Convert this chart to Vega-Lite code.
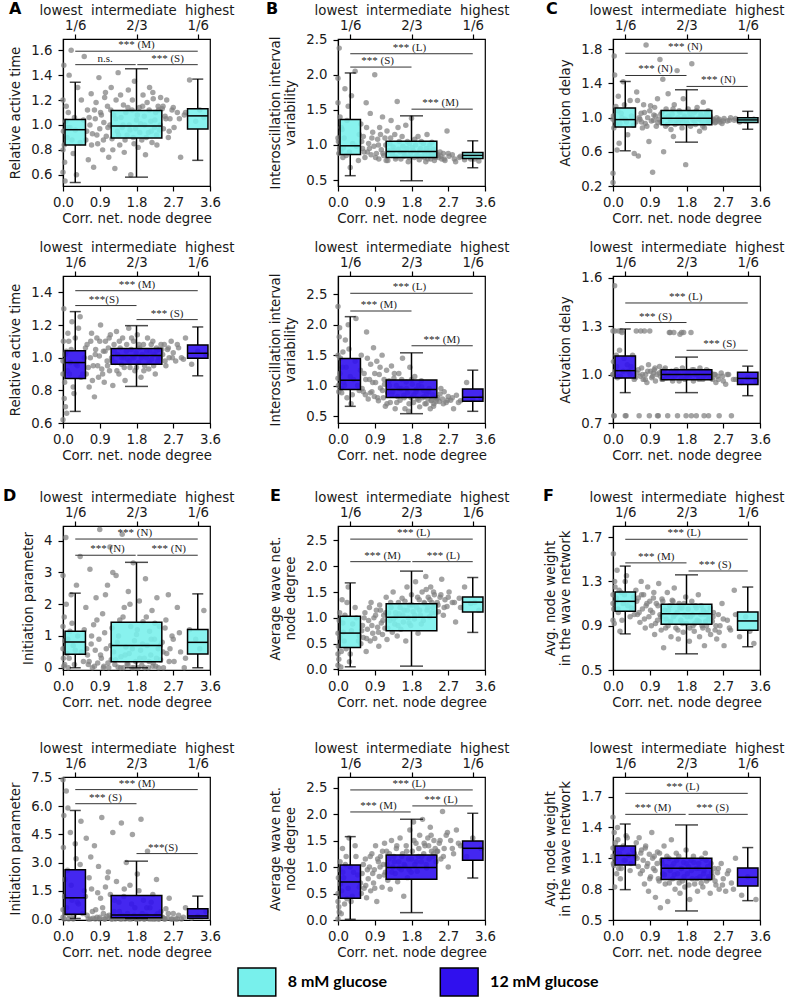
{
"$schema":"https://vega.github.io/schema/vega-lite/v6.json",
"background":"white",
"padding":{"left":2,"top":0,"right":5,"bottom":4},
"config":{
 "font":"DejaVu Sans",
 "view":{"stroke":"black","strokeWidth":1.2},
 "axis":{"labelFont":"DejaVu Sans","labelFontSize":13.3,"labelColor":"#1a1a1a","titleFont":"DejaVu Sans","titleFontSize":13.3,"titleFontWeight":"normal","titleColor":"#1a1a1a","tickColor":"black","tickSize":5,"tickWidth":1.2,"domainColor":"black","domainWidth":1.2,"grid":false,"labelPadding":4,"titlePadding":3,"labelFlush":false,"labelOverlap":false},
 "axisY":{"labelPadding":6,"titlePadding":8,"labelOverlap":false},
 "axisTop":{"labelPadding":2,"titlePadding":1}
},
"datasets":{
"cells":[
{"g":8,"x":0,"act":0.62,"ivar":1.95,"delay":0.35,"init":2.9,"wdeg":0.08,"wgt":1.18},
{"g":8,"x":0.01,"act":0.95,"ivar":1.05,"delay":1.02,"init":0.3,"wdeg":0.45,"wgt":1.55},
{"g":8,"x":0.02,"act":1.48,"ivar":0.88,"delay":0.88,"init":0.05,"wdeg":0.2,"wgt":1.05},
{"g":8,"x":0.03,"act":0.84,"ivar":2.38,"delay":1.72,"init":1.6,"wdeg":0.95,"wgt":0.92},
{"g":8,"x":0.05,"act":0.55,"ivar":1.4,"delay":0.96,"init":0.85,"wdeg":0.62,"wgt":1.25},
{"g":8,"x":0.07,"act":1.03,"ivar":0.92,"delay":1.13,"init":4.1,"wdeg":0.05,"wgt":1.12},
{"g":8,"x":0.1,"act":0.9,"ivar":1.22,"delay":0.62,"init":0.45,"wdeg":1.35,"wgt":1.4},
{"g":8,"x":0.13,"act":1.1,"ivar":0.96,"delay":1.25,"init":0,"wdeg":0.72,"wgt":1.02},
{"g":8,"x":0.17,"act":0.98,"ivar":1.8,"delay":0.93,"init":1.15,"wdeg":1.05,"wgt":0.85},
{"g":8,"x":0.2,"act":1.6,"ivar":0.85,"delay":1.05,"init":2.3,"wdeg":0.4,"wgt":1.2},
{"g":8,"x":0.25,"act":0.77,"ivar":1.55,"delay":1.42,"init":0.7,"wdeg":1.6,"wgt":1.1},
{"g":8,"x":0.3,"act":0.96,"ivar":0.68,"delay":0.98,"init":0.55,"wdeg":0.3,"wgt":1.3},
{"g":8,"x":0.36,"act":1.3,"ivar":1.02,"delay":0.8,"init":1,"wdeg":0.88,"wgt":1.08},
{"g":8,"x":0.42,"act":0.86,"ivar":2.05,"delay":1.2,"init":3.5,"wdeg":1.2,"wgt":0.98},
{"g":8,"x":0.5,"act":1.04,"ivar":0.78,"delay":0.91,"init":0.2,"wdeg":0.55,"wgt":1.16},
{"g":8,"x":0.56,"act":0.88,"ivar":1.3,"delay":0.95,"init":1.9,"wdeg":0.5,"wgt":1.22},
{"g":8,"x":0.6,"act":1.12,"ivar":0.95,"delay":1.2,"init":0.4,"wdeg":0.85,"wgt":1.0},
{"g":8,"x":0.62,"act":0.72,"ivar":1.12,"delay":0.55,"init":0.1,"wdeg":0.62,"wgt":1.15},
{"g":8,"x":0.66,"act":1.0,"ivar":0.82,"delay":0.98,"init":3.1,"wdeg":1.1,"wgt":0.93},
{"g":8,"x":0.69,"act":1.25,"ivar":1.6,"delay":1.05,"init":0.75,"wdeg":0.35,"wgt":1.3},
{"g":8,"x":0.72,"act":0.93,"ivar":0.9,"delay":0.88,"init":0,"wdeg":0.78,"wgt":1.05},
{"g":8,"x":0.75,"act":0.66,"ivar":1.02,"delay":1.15,"init":1.35,"wdeg":0.95,"wgt":1.18},
{"g":8,"x":0.79,"act":1.05,"ivar":1.45,"delay":0.93,"init":0.55,"wdeg":0.55,"wgt":0.88},
{"g":8,"x":0.81,"act":1.18,"ivar":0.86,"delay":1.85,"init":2.2,"wdeg":1.3,"wgt":1.08},
{"g":8,"x":0.85,"act":0.85,"ivar":1.18,"delay":1.0,"init":0.15,"wdeg":0.7,"wgt":1.25},
{"g":8,"x":0.88,"act":1.38,"ivar":0.98,"delay":0.72,"init":0.9,"wdeg":1.0,"wgt":0.98},
{"g":8,"x":0.9,"act":0.97,"ivar":2.0,"delay":1.08,"init":4.35,"wdeg":0.6,"wgt":1.12},
{"g":8,"x":0.94,"act":1.08,"ivar":0.88,"delay":0.96,"init":0.3,"wdeg":1.15,"wgt":0.9},
{"g":8,"x":0.97,"act":0.8,"ivar":1.08,"delay":0.36,"init":1.7,"wdeg":0.82,"wgt":1.02},
{"g":8,"x":1.0,"act":1.02,"ivar":0.8,"delay":1.03,"init":0.05,"wdeg":0.45,"wgt":1.2},
{"g":8,"x":1.02,"act":1.22,"ivar":1.25,"delay":1.12,"init":1.1,"wdeg":1.25,"wgt":0.82},
{"g":8,"x":1.06,"act":0.91,"ivar":0.93,"delay":0.9,"init":0.6,"wdeg":0.9,"wgt":1.1},
{"g":8,"x":1.09,"act":1.15,"ivar":1.4,"delay":1.22,"init":2.6,"wdeg":0.68,"wgt":0.95},
{"g":8,"x":1.12,"act":0.74,"ivar":0.85,"delay":0.98,"init":0,"wdeg":1.05,"wgt":1.28},
{"g":8,"x":1.15,"act":1.0,"ivar":1.1,"delay":1.68,"init":3.8,"wdeg":0.8,"wgt":1.0},
{"g":8,"x":1.18,"act":1.3,"ivar":0.78,"delay":0.95,"init":0.25,"wdeg":1.4,"wgt":0.86},
{"g":8,"x":1.2,"act":0.89,"ivar":1.2,"delay":1.06,"init":1.25,"wdeg":0.58,"wgt":1.14},
{"g":8,"x":1.24,"act":1.08,"ivar":0.92,"delay":0.6,"init":0.5,"wdeg":1.1,"wgt":0.7},
{"g":8,"x":1.27,"act":0.65,"ivar":1.02,"delay":1.0,"init":0.1,"wdeg":0.95,"wgt":1.04},
{"g":8,"x":1.3,"act":1.2,"ivar":1.35,"delay":1.1,"init":2.9,"wdeg":1.2,"wgt":0.96},
{"g":8,"x":1.33,"act":0.95,"ivar":0.87,"delay":0.92,"init":0.8,"wdeg":0.72,"wgt":1.2},
{"g":8,"x":1.35,"act":1.42,"ivar":0.97,"delay":1.28,"init":0.02,"wdeg":1.5,"wgt":0.9},
{"g":8,"x":1.39,"act":0.84,"ivar":1.15,"delay":0.99,"init":1.5,"wdeg":0.88,"wgt":1.08},
{"g":8,"x":1.42,"act":1.06,"ivar":0.83,"delay":0.86,"init":0.35,"wdeg":1.02,"wgt":0.8},
{"g":8,"x":1.45,"act":0.98,"ivar":1.62,"delay":1.04,"init":4.2,"wdeg":0.65,"wgt":1.13},
{"g":8,"x":1.48,"act":1.16,"ivar":0.94,"delay":0.78,"init":0,"wdeg":1.3,"wgt":0.98},
{"g":8,"x":1.5,"act":0.78,"ivar":1.05,"delay":1.15,"init":1.9,"wdeg":1.08,"wgt":1.24},
{"g":8,"x":1.54,"act":1.1,"ivar":0.8,"delay":0.97,"init":0.65,"wdeg":0.78,"wgt":0.88},
{"g":8,"x":1.57,"act":0.92,"ivar":1.12,"delay":1.55,"init":0.12,"wdeg":1.38,"wgt":1.02},
{"g":8,"x":1.6,"act":1.28,"ivar":0.9,"delay":0.94,"init":2.4,"wdeg":0.92,"wgt":0.78},
{"g":8,"x":1.62,"act":1.0,"ivar":0.84,"delay":1.08,"init":0.45,"wdeg":1.15,"wgt":1.1},
{"g":8,"x":1.66,"act":0.6,"ivar":1.28,"delay":0.98,"init":1.3,"wdeg":0.55,"wgt":0.95},
{"g":8,"x":1.69,"act":1.12,"ivar":0.95,"delay":0.88,"init":0,"wdeg":1.6,"wgt":1.06},
{"g":8,"x":1.72,"act":0.9,"ivar":0.76,"delay":1.22,"init":3.3,"wdeg":1.0,"wgt":0.84},
{"g":8,"x":1.75,"act":1.35,"ivar":1.02,"delay":1.02,"init":0.85,"wdeg":1.25,"wgt":1.0},
{"g":8,"x":1.78,"act":0.97,"ivar":0.88,"delay":0.45,"init":0.2,"wdeg":0.85,"wgt":1.16},
{"g":8,"x":1.8,"act":1.04,"ivar":1.38,"delay":0.96,"init":1.05,"wdeg":1.45,"wgt":0.92},
{"g":8,"x":1.84,"act":0.82,"ivar":0.92,"delay":1.1,"init":0,"wdeg":1.12,"wgt":1.05},
{"g":8,"x":1.87,"act":1.14,"ivar":0.82,"delay":1.0,"init":2.1,"wdeg":0.98,"wgt":0.76},
{"g":8,"x":1.9,"act":1.01,"ivar":1.0,"delay":0.9,"init":0.55,"wdeg":1.7,"wgt":0.98},
{"g":8,"x":1.93,"act":0.88,"ivar":0.86,"delay":1.63,"init":0.08,"wdeg":1.2,"wgt":1.12},
{"g":8,"x":1.96,"act":1.24,"ivar":1.12,"delay":0.97,"init":1.45,"wdeg":0.7,"wgt":0.9},
{"g":8,"x":1.99,"act":1.07,"ivar":0.79,"delay":1.06,"init":0.3,"wdeg":1.35,"wgt":0.85},
{"g":8,"x":2.02,"act":0.76,"ivar":0.95,"delay":0.92,"init":2.8,"wdeg":1.05,"wgt":1.08},
{"g":8,"x":2.06,"act":1.18,"ivar":0.84,"delay":1.12,"init":0.7,"wdeg":1.5,"wgt":0.95},
{"g":8,"x":2.09,"act":0.94,"ivar":1.02,"delay":0.99,"init":0,"wdeg":0.95,"wgt":1.18},
{"g":8,"x":2.12,"act":1.3,"ivar":0.9,"delay":0.84,"init":1.15,"wdeg":1.28,"wgt":0.8},
{"g":8,"x":2.15,"act":1.03,"ivar":0.76,"delay":1.04,"init":0.4,"wdeg":1.8,"wgt":1.0},
{"g":8,"x":2.18,"act":0.86,"ivar":1.15,"delay":0.95,"init":1.8,"wdeg":1.15,"wgt":0.9},
{"g":8,"x":2.21,"act":1.21,"ivar":0.86,"delay":1.18,"init":0.15,"wdeg":1.4,"wgt":1.04},
{"g":8,"x":2.24,"act":0.98,"ivar":0.92,"delay":0.88,"init":0.9,"wdeg":1.02,"wgt":0.72},
{"g":8,"x":2.27,"act":1.1,"ivar":0.8,"delay":1.02,"init":0.05,"wdeg":1.6,"wgt":0.94},
{"g":8,"x":2.3,"act":0.84,"ivar":1.04,"delay":0.95,"init":2.2,"wdeg":1.3,"wgt":1.02},
{"g":8,"x":2.33,"act":1.15,"ivar":0.84,"delay":1.08,"init":0.6,"wdeg":1.2,"wgt":0.86},
{"g":8,"x":2.36,"act":0.96,"ivar":0.78,"delay":0.94,"init":1.3,"wdeg":1.45,"wgt":0.98},
{"g":8,"x":2.39,"act":1.22,"ivar":0.9,"delay":1.0,"init":0.25,"wdeg":1.1,"wgt":0.82},
{"g":8,"x":2.43,"act":1.13,"ivar":0.85,"delay":0.96,"init":0.8,"wdeg":1.3,"wgt":0.94},
{"g":8,"x":2.46,"act":0.97,"ivar":0.82,"delay":0.98,"init":0,"wdeg":1.12,"wgt":1.02},
{"g":8,"x":2.5,"act":1.07,"ivar":0.9,"delay":0.94,"init":1.25,"wdeg":1.4,"wgt":0.86},
{"g":8,"x":2.54,"act":1.2,"ivar":0.8,"delay":1.0,"init":0.45,"wdeg":1.75,"wgt":0.78},
{"g":8,"x":2.58,"act":0.9,"ivar":0.88,"delay":0.97,"init":2.3,"wdeg":1.05,"wgt":1.0},
{"g":8,"x":2.62,"act":1.05,"ivar":0.78,"delay":0.95,"init":0.6,"wdeg":1.35,"wgt":0.9},
{"g":8,"x":2.67,"act":1.12,"ivar":1.2,"delay":0.93,"init":1.0,"wdeg":1.22,"wgt":1.1},
{"g":8,"x":2.72,"act":0.98,"ivar":0.84,"delay":0.99,"init":0.2,"wdeg":1.5,"wgt":0.72},
{"g":8,"x":2.8,"act":1.1,"ivar":0.86,"delay":0.96,"init":1.9,"wdeg":1.3,"wgt":0.95},
{"g":8,"x":2.88,"act":0.74,"ivar":0.76,"delay":1.0,"init":0.5,"wdeg":0.92,"wgt":0.86},
{"g":8,"x":2.97,"act":1.08,"ivar":0.82,"delay":0.97,"init":0,"wdeg":1.38,"wgt":1.22},
{"g":8,"x":3.1,"act":1.36,"ivar":0.79,"delay":0.95,"init":1.2,"wdeg":1.6,"wgt":0.8},
{"g":8,"x":3.25,"act":1.03,"ivar":0.8,"delay":0.96,"init":0.9,"wdeg":1.28,"wgt":0.98},
{"g":8,"x":3.45,"act":1.06,"ivar":0.77,"delay":0.98,"init":1.8,"wdeg":1.15,"wgt":0.74},
{"g":8,"x":0,"act":0.8,"ivar":1.1,"delay":0.98,"init":0.6,"wdeg":0.3,"wgt":1.1},
{"g":8,"x":0,"act":1.2,"ivar":1.6,"delay":0.24,"init":1.3,"wdeg":0.7,"wgt":0.95},
{"g":8,"x":0.04,"act":0.7,"ivar":0.95,"delay":1.5,"init":0.1,"wdeg":1.1,"wgt":1.3},
{"g":8,"x":0.08,"act":1.15,"ivar":1.25,"delay":0.92,"init":2.0,"wdeg":0.35,"wgt":1.15},
{"g":8,"x":0.12,"act":0.98,"ivar":0.82,"delay":1.08,"init":0.9,"wdeg":0.9,"wgt":1.05},
{"g":8,"x":0.15,"act":1.4,"ivar":1.1,"delay":0.7,"init":0.3,"wdeg":0.55,"wgt":1.22},
{"g":8,"x":0.22,"act":0.88,"ivar":1.35,"delay":1.0,"init":1.4,"wdeg":1.3,"wgt":0.95},
{"g":8,"x":0.28,"act":1.06,"ivar":0.9,"delay":1.15,"init":0.1,"wdeg":0.15,"wgt":1.18},
{"g":8,"x":0.33,"act":0.6,"ivar":1.7,"delay":0.95,"init":2.6,"wdeg":0.75,"wgt":1.35},
{"g":8,"x":0.45,"act":1.2,"ivar":0.98,"delay":1.02,"init":0.5,"wdeg":1.0,"wgt":1.06},
{"g":8,"x":0.52,"act":1.55,"ivar":1.15,"delay":0.58,"init":1.2,"wdeg":0.65,"wgt":1.0},
{"g":8,"x":0.58,"act":0.95,"ivar":1.05,"delay":1.3,"init":0.6,"wdeg":0.75,"wgt":1.12},
{"g":8,"x":0.64,"act":1.06,"ivar":0.9,"delay":1.0,"init":0.2,"wdeg":1.0,"wgt":1.02},
{"g":8,"x":0.7,"act":0.84,"ivar":1.25,"delay":0.95,"init":1.0,"wdeg":0.6,"wgt":1.18},
{"g":8,"x":0.77,"act":1.12,"ivar":0.95,"delay":1.06,"init":0.05,"wdeg":1.2,"wgt":0.96},
{"g":8,"x":0.83,"act":0.92,"ivar":1.1,"delay":0.9,"init":1.5,"wdeg":0.85,"wgt":1.1},
{"g":8,"x":0.92,"act":1.1,"ivar":0.82,"delay":1.14,"init":0.4,"wdeg":1.05,"wgt":1.04},
{"g":8,"x":0.99,"act":0.88,"ivar":1.0,"delay":0.97,"init":0,"wdeg":0.72,"wgt":1.15},
{"g":8,"x":1.04,"act":1.26,"ivar":1.15,"delay":1.02,"init":2.3,"wdeg":1.15,"wgt":0.92},
{"g":8,"x":1.1,"act":0.98,"ivar":0.88,"delay":0.94,"init":0.15,"wdeg":0.95,"wgt":1.08},
{"g":8,"x":1.17,"act":1.12,"ivar":1.0,"delay":1.04,"init":0.7,"wdeg":1.1,"wgt":0.98},
{"g":8,"x":1.22,"act":0.8,"ivar":0.78,"delay":1.45,"init":3.0,"wdeg":0.8,"wgt":1.12},
{"g":8,"x":1.29,"act":1.05,"ivar":1.1,"delay":0.9,"init":0.25,"wdeg":1.3,"wgt":0.88},
{"g":8,"x":1.36,"act":0.92,"ivar":0.92,"delay":1.02,"init":1.0,"wdeg":0.98,"wgt":1.04},
{"g":8,"x":1.41,"act":1.24,"ivar":0.8,"delay":0.96,"init":0,"wdeg":1.1,"wgt":0.94},
{"g":8,"x":1.47,"act":1.0,"ivar":1.25,"delay":1.1,"init":1.6,"wdeg":0.85,"wgt":1.12},
{"g":8,"x":1.52,"act":0.88,"ivar":0.9,"delay":0.92,"init":0.4,"wdeg":1.2,"wgt":1.0},
{"g":8,"x":1.59,"act":1.14,"ivar":0.98,"delay":1.0,"init":0.1,"wdeg":1.05,"wgt":0.86},
{"g":8,"x":1.64,"act":0.96,"ivar":0.86,"delay":1.06,"init":2.0,"wdeg":1.32,"wgt":1.06},
{"g":8,"x":1.7,"act":1.2,"ivar":1.05,"delay":0.95,"init":0.6,"wdeg":1.15,"wgt":0.92},
{"g":8,"x":1.74,"act":0.85,"ivar":0.82,"delay":1.0,"init":0,"wdeg":0.9,"wgt":1.1},
{"g":8,"x":1.82,"act":1.08,"ivar":0.96,"delay":0.93,"init":1.2,"wdeg":1.25,"wgt":0.98},
{"g":8,"x":1.88,"act":0.94,"ivar":1.08,"delay":1.05,"init":0.3,"wdeg":1.05,"wgt":0.88},
{"g":8,"x":1.95,"act":1.15,"ivar":0.84,"delay":1.0,"init":0.75,"wdeg":1.4,"wgt":1.0},
{"g":8,"x":2.0,"act":1.0,"ivar":0.92,"delay":0.96,"init":0,"wdeg":1.15,"wgt":0.92},
{"g":8,"x":2.04,"act":0.9,"ivar":1.05,"delay":1.08,"init":1.6,"wdeg":0.88,"wgt":1.06},
{"g":8,"x":2.11,"act":1.12,"ivar":0.82,"delay":0.98,"init":0.2,"wdeg":1.3,"wgt":0.94},
{"g":8,"x":2.16,"act":0.95,"ivar":0.95,"delay":1.02,"init":0.9,"wdeg":1.55,"wgt":1.08},
{"g":8,"x":2.2,"act":1.26,"ivar":0.8,"delay":0.9,"init":0.05,"wdeg":1.2,"wgt":0.88},
{"g":8,"x":2.25,"act":1.04,"ivar":1.0,"delay":1.0,"init":1.4,"wdeg":1.35,"wgt":1.0},
{"g":8,"x":2.29,"act":0.92,"ivar":0.86,"delay":1.06,"init":0.3,"wdeg":1.1,"wgt":0.9},
{"g":8,"x":2.34,"act":1.12,"ivar":0.94,"delay":0.96,"init":0,"wdeg":1.5,"wgt":0.96},
{"g":8,"x":2.38,"act":1.0,"ivar":0.82,"delay":1.02,"init":0.7,"wdeg":1.25,"wgt":1.06},
{"g":8,"x":2.45,"act":1.15,"ivar":0.86,"delay":0.97,"init":0.5,"wdeg":1.25,"wgt":0.98},
{"g":8,"x":2.52,"act":1.05,"ivar":0.84,"delay":0.95,"init":1.5,"wdeg":1.45,"wgt":0.9},
{"g":8,"x":2.6,"act":0.95,"ivar":0.8,"delay":0.98,"init":0.2,"wdeg":1.2,"wgt":0.84},
{"g":8,"x":2.7,"act":1.14,"ivar":0.88,"delay":0.96,"init":0.9,"wdeg":1.4,"wgt":0.96},
{"g":8,"x":2.85,"act":1.05,"ivar":0.8,"delay":0.97,"init":1.1,"wdeg":1.3,"wgt":0.88},
{"g":8,"x":3.0,"act":1.1,"ivar":0.84,"delay":0.99,"init":0.3,"wdeg":1.2,"wgt":1.0},
{"g":8,"x":3.35,"act":1.12,"ivar":0.8,"delay":0.97,"init":0.6,"wdeg":1.3,"wgt":0.85},
{"g":12,"x":0,"act":0.62,"ivar":2.3,"delay":1.27,"init":7.4,"wdeg":0.02,"wgt":1.5},
{"g":12,"x":0,"act":0.98,"ivar":1.12,"delay":1.0,"init":0.1,"wdeg":0.5,"wgt":1.12},
{"g":12,"x":0.02,"act":1.3,"ivar":0.9,"delay":0.745,"init":5.5,"wdeg":0.25,"wgt":1.03},
{"g":12,"x":0.04,"act":0.85,"ivar":1.95,"delay":1.55,"init":1.2,"wdeg":0.95,"wgt":0.82},
{"g":12,"x":0.06,"act":0.7,"ivar":1.45,"delay":1.02,"init":0.3,"wdeg":0.68,"wgt":1.25},
{"g":12,"x":0.08,"act":1.04,"ivar":0.95,"delay":1.12,"init":6.8,"wdeg":0.12,"wgt":1.18},
{"g":12,"x":0.11,"act":0.92,"ivar":1.3,"delay":0.98,"init":2.6,"wdeg":1.35,"wgt":1.4},
{"g":12,"x":0.14,"act":1.1,"ivar":1.05,"delay":1.27,"init":0,"wdeg":0.8,"wgt":1.0},
{"g":12,"x":0.18,"act":0.97,"ivar":1.75,"delay":0.99,"init":4.6,"wdeg":1.05,"wgt":0.9},
{"g":12,"x":0.22,"act":1.22,"ivar":0.8,"delay":1.26,"init":1.0,"wdeg":0.4,"wgt":1.2},
{"g":12,"x":0.27,"act":0.78,"ivar":1.6,"delay":1.1,"init":0.2,"wdeg":1.55,"wgt":1.08},
{"g":12,"x":0.32,"act":0.96,"ivar":0.7,"delay":0.745,"init":3.2,"wdeg":0.35,"wgt":1.32},
{"g":12,"x":0.38,"act":1.18,"ivar":1.1,"delay":1.02,"init":0.8,"wdeg":0.9,"wgt":1.13},
{"g":12,"x":0.44,"act":0.88,"ivar":2.1,"delay":1.05,"init":5.2,"wdeg":1.2,"wgt":1.05},
{"g":12,"x":0.52,"act":1.0,"ivar":0.92,"delay":0.97,"init":1.5,"wdeg":0.62,"wgt":1.15},
{"g":12,"x":0.57,"act":0.9,"ivar":1.5,"delay":1.27,"init":4.3,"wdeg":0.5,"wgt":1.25},
{"g":12,"x":0.59,"act":1.08,"ivar":0.95,"delay":1.01,"init":0.2,"wdeg":0.88,"wgt":1.1},
{"g":12,"x":0.64,"act":0.82,"ivar":1.2,"delay":0.745,"init":2.2,"wdeg":0.6,"wgt":1.3},
{"g":12,"x":0.67,"act":1.0,"ivar":0.85,"delay":0.99,"init":0,"wdeg":1.15,"wgt":0.95},
{"g":12,"x":0.7,"act":1.15,"ivar":1.88,"delay":1.04,"init":1.6,"wdeg":0.42,"wgt":1.18},
{"g":12,"x":0.74,"act":0.95,"ivar":0.78,"delay":0.97,"init":0.05,"wdeg":0.78,"wgt":1.08},
{"g":12,"x":0.77,"act":0.76,"ivar":1.1,"delay":1.27,"init":3.9,"wdeg":1.0,"wgt":0.85},
{"g":12,"x":0.8,"act":1.05,"ivar":1.35,"delay":1.0,"init":0.5,"wdeg":0.55,"wgt":1.22},
{"g":12,"x":0.83,"act":1.12,"ivar":0.9,"delay":0.95,"init":0.1,"wdeg":1.25,"wgt":1.02},
{"g":12,"x":0.87,"act":0.88,"ivar":1.62,"delay":1.06,"init":2.8,"wdeg":0.7,"wgt":0.78},
{"g":12,"x":0.89,"act":1.01,"ivar":0.82,"delay":0.745,"init":0,"wdeg":0.95,"wgt":1.14},
{"g":12,"x":0.92,"act":1.2,"ivar":1.05,"delay":1.02,"init":1.1,"wdeg":1.4,"wgt":0.92},
{"g":12,"x":0.95,"act":0.93,"ivar":1.4,"delay":0.98,"init":5.4,"wdeg":0.35,"wgt":1.35},
{"g":12,"x":0.99,"act":1.04,"ivar":0.75,"delay":1.01,"init":0.3,"wdeg":1.1,"wgt":1.0},
{"g":12,"x":1.01,"act":0.85,"ivar":1.18,"delay":1.03,"init":0,"wdeg":0.82,"wgt":1.12},
{"g":12,"x":1.04,"act":1.1,"ivar":0.96,"delay":0.96,"init":1.7,"wdeg":1.2,"wgt":0.72},
{"g":12,"x":1.08,"act":0.98,"ivar":1.5,"delay":1.0,"init":0.15,"wdeg":0.62,"wgt":1.05},
{"g":12,"x":1.11,"act":1.06,"ivar":0.8,"delay":0.745,"init":2.5,"wdeg":1.05,"wgt":0.9},
{"g":12,"x":1.14,"act":0.92,"ivar":1.02,"delay":1.05,"init":0.05,"wdeg":1.45,"wgt":1.15},
{"g":12,"x":1.16,"act":1.14,"ivar":0.66,"delay":0.99,"init":1.3,"wdeg":0.9,"wgt":0.62},
{"g":12,"x":1.19,"act":1.0,"ivar":1.25,"delay":1.02,"init":0,"wdeg":1.3,"wgt":1.08},
{"g":12,"x":1.22,"act":0.83,"ivar":0.88,"delay":0.97,"init":4.6,"wdeg":0.75,"wgt":0.95},
{"g":12,"x":1.25,"act":1.08,"ivar":1.08,"delay":1.01,"init":0.4,"wdeg":1.15,"wgt":1.22},
{"g":12,"x":1.28,"act":0.97,"ivar":0.72,"delay":1.04,"init":0,"wdeg":0.58,"wgt":0.85},
{"g":12,"x":1.31,"act":1.16,"ivar":1.32,"delay":0.98,"init":2.0,"wdeg":1.5,"wgt":1.02},
{"g":12,"x":1.34,"act":1.02,"ivar":0.9,"delay":0.745,"init":0.1,"wdeg":1.0,"wgt":0.68},
{"g":12,"x":1.37,"act":0.9,"ivar":1.12,"delay":1.0,"init":0.9,"wdeg":1.2,"wgt":1.1},
{"g":12,"x":1.4,"act":1.06,"ivar":0.62,"delay":1.26,"init":0,"wdeg":0.88,"wgt":0.98},
{"g":12,"x":1.43,"act":0.96,"ivar":1.0,"delay":1.02,"init":5.1,"wdeg":1.35,"wgt":1.28},
{"g":12,"x":1.46,"act":1.12,"ivar":0.82,"delay":0.96,"init":0.2,"wdeg":0.72,"wgt":0.9},
{"g":12,"x":1.49,"act":1.0,"ivar":1.2,"delay":1.26,"init":1.2,"wdeg":1.1,"wgt":1.05},
{"g":12,"x":1.52,"act":0.86,"ivar":0.76,"delay":0.99,"init":0,"wdeg":1.55,"wgt":0.8},
{"g":12,"x":1.55,"act":1.04,"ivar":0.95,"delay":1.03,"init":3.0,"wdeg":0.95,"wgt":1.15},
{"g":12,"x":1.58,"act":0.99,"ivar":1.45,"delay":0.745,"init":0.3,"wdeg":1.25,"wgt":0.95},
{"g":12,"x":1.61,"act":1.18,"ivar":0.84,"delay":1.01,"init":0.05,"wdeg":0.45,"wgt":1.12},
{"g":12,"x":1.64,"act":0.94,"ivar":0.62,"delay":1.25,"init":1.8,"wdeg":1.02,"wgt":0.76},
{"g":12,"x":1.67,"act":1.05,"ivar":1.06,"delay":0.98,"init":0,"wdeg":1.4,"wgt":1.0},
{"g":12,"x":1.7,"act":1.0,"ivar":0.88,"delay":1.04,"init":4.5,"wdeg":0.8,"wgt":0.88},
{"g":12,"x":1.73,"act":1.1,"ivar":0.58,"delay":1.26,"init":0.1,"wdeg":1.15,"wgt":1.06},
{"g":12,"x":1.76,"act":0.92,"ivar":1.3,"delay":0.97,"init":0.6,"wdeg":1.7,"wgt":0.82},
{"g":12,"x":1.79,"act":1.03,"ivar":0.8,"delay":0.745,"init":0,"wdeg":0.9,"wgt":1.18},
{"g":12,"x":1.82,"act":1.14,"ivar":1.02,"delay":1.0,"init":2.4,"wdeg":1.3,"wgt":0.95},
{"g":12,"x":1.85,"act":0.97,"ivar":0.72,"delay":1.02,"init":0.15,"wdeg":1.85,"wgt":1.02},
{"g":12,"x":1.88,"act":1.06,"ivar":1.15,"delay":0.99,"init":0,"wdeg":1.05,"wgt":0.7},
{"g":12,"x":1.91,"act":0.88,"ivar":0.9,"delay":1.26,"init":5.3,"wdeg":1.45,"wgt":1.08},
{"g":12,"x":1.94,"act":1.02,"ivar":0.78,"delay":1.03,"init":0.3,"wdeg":0.92,"wgt":0.9},
{"g":12,"x":1.97,"act":1.08,"ivar":1.0,"delay":0.96,"init":1.0,"wdeg":1.2,"wgt":1.12},
{"g":12,"x":2.0,"act":0.95,"ivar":0.65,"delay":1.0,"init":0,"wdeg":1.6,"wgt":0.85},
{"g":12,"x":2.04,"act":1.0,"ivar":1.08,"delay":0.745,"init":0.2,"wdeg":1.1,"wgt":1.0},
{"g":12,"x":2.07,"act":1.12,"ivar":0.8,"delay":1.02,"init":3.6,"wdeg":1.9,"wgt":0.78},
{"g":12,"x":2.1,"act":0.93,"ivar":0.92,"delay":0.98,"init":0.05,"wdeg":1.25,"wgt":1.05},
{"g":12,"x":2.13,"act":1.04,"ivar":0.7,"delay":1.04,"init":0.6,"wdeg":1.4,"wgt":0.92},
{"g":12,"x":2.17,"act":0.99,"ivar":0.86,"delay":1.01,"init":0,"wdeg":0.98,"wgt":1.1},
{"g":12,"x":2.2,"act":1.1,"ivar":0.78,"delay":0.97,"init":1.3,"wdeg":1.55,"wgt":0.82},
{"g":12,"x":2.23,"act":1.02,"ivar":0.95,"delay":0.745,"init":0.1,"wdeg":1.15,"wgt":0.98},
{"g":12,"x":2.26,"act":0.9,"ivar":0.62,"delay":1.0,"init":0,"wdeg":1.75,"wgt":1.15},
{"g":12,"x":2.29,"act":1.06,"ivar":0.76,"delay":1.03,"init":2.1,"wdeg":1.3,"wgt":0.88},
{"g":12,"x":2.32,"act":0.98,"ivar":0.85,"delay":0.99,"init":0.3,"wdeg":1.2,"wgt":1.02},
{"g":12,"x":2.35,"act":1.05,"ivar":0.7,"delay":1.02,"init":0,"wdeg":1.5,"wgt":0.9},
{"g":12,"x":2.38,"act":1.0,"ivar":0.8,"delay":0.98,"init":0.05,"wdeg":1.35,"wgt":0.76},
{"g":12,"x":2.4,"act":1.08,"ivar":0.74,"delay":1.01,"init":0.4,"wdeg":1.1,"wgt":1.05},
{"g":12,"x":2.44,"act":1.02,"ivar":0.8,"delay":0.97,"init":0.1,"wdeg":1.3,"wgt":0.92},
{"g":12,"x":2.48,"act":1.08,"ivar":0.74,"delay":1.0,"init":0,"wdeg":1.45,"wgt":1.0},
{"g":12,"x":2.52,"act":0.95,"ivar":0.95,"delay":0.95,"init":0.55,"wdeg":1.15,"wgt":0.84},
{"g":12,"x":2.56,"act":1.05,"ivar":0.78,"delay":0.99,"init":0.05,"wdeg":2.05,"wgt":0.96},
{"g":12,"x":2.6,"act":1.0,"ivar":0.9,"delay":0.745,"init":1.1,"wdeg":1.35,"wgt":0.8},
{"g":12,"x":2.65,"act":1.1,"ivar":0.72,"delay":1.01,"init":0,"wdeg":1.6,"wgt":1.05},
{"g":12,"x":2.7,"act":1.03,"ivar":0.82,"delay":0.96,"init":0.3,"wdeg":1.0,"wgt":0.9},
{"g":12,"x":2.76,"act":0.98,"ivar":0.76,"delay":0.94,"init":0,"wdeg":1.5,"wgt":0.78},
{"g":12,"x":2.83,"act":1.06,"ivar":0.62,"delay":1.0,"init":0.2,"wdeg":1.25,"wgt":0.98},
{"g":12,"x":2.9,"act":1.0,"ivar":0.84,"delay":0.745,"init":0,"wdeg":1.7,"wgt":0.86},
{"g":12,"x":3.0,"act":1.12,"ivar":0.75,"delay":0.97,"init":0.6,"wdeg":1.4,"wgt":1.1},
{"g":12,"x":3.15,"act":0.96,"ivar":1.05,"delay":0.95,"init":0.05,"wdeg":1.2,"wgt":0.74},
{"g":12,"x":3.3,"act":1.04,"ivar":0.78,"delay":0.98,"init":0.15,"wdeg":1.55,"wgt":0.92},
{"g":12,"x":3.5,"act":1.02,"ivar":0.8,"delay":0.96,"init":0.4,"wdeg":1.35,"wgt":0.7},
{"g":12,"x":0,"act":0.9,"ivar":1.5,"delay":1.0,"init":0.5,"wdeg":0.35,"wgt":1.2},
{"g":12,"x":0.01,"act":1.1,"ivar":1.0,"delay":1.08,"init":3.8,"wdeg":0.8,"wgt":1.05},
{"g":12,"x":0.03,"act":0.75,"ivar":1.8,"delay":0.745,"init":0,"wdeg":0.15,"wgt":1.35},
{"g":12,"x":0.05,"act":1.02,"ivar":1.2,"delay":1.27,"init":2.1,"wdeg":1.1,"wgt":1.1},
{"g":12,"x":0.09,"act":0.66,"ivar":0.88,"delay":1.05,"init":0.6,"wdeg":0.55,"wgt":0.95},
{"g":12,"x":0.12,"act":1.15,"ivar":1.55,"delay":0.99,"init":5.9,"wdeg":0.9,"wgt":1.28},
{"g":12,"x":0.16,"act":0.9,"ivar":1.0,"delay":1.15,"init":0.2,"wdeg":0.3,"wgt":1.15},
{"g":12,"x":0.2,"act":1.05,"ivar":1.3,"delay":1.27,"init":1.8,"wdeg":1.2,"wgt":1.0},
{"g":12,"x":0.25,"act":0.82,"ivar":2.0,"delay":1.02,"init":0,"wdeg":0.6,"wgt":1.22},
{"g":12,"x":0.3,"act":1.12,"ivar":1.15,"delay":0.745,"init":4.0,"wdeg":1.0,"wgt":1.08},
{"g":12,"x":0.35,"act":0.95,"ivar":0.85,"delay":1.06,"init":0.9,"wdeg":0.45,"wgt":1.3},
{"g":12,"x":0.42,"act":1.25,"ivar":1.4,"delay":1.0,"init":2.9,"wdeg":1.4,"wgt":0.98},
{"g":12,"x":0.48,"act":0.9,"ivar":1.0,"delay":1.12,"init":0.3,"wdeg":0.85,"wgt":1.18},
{"g":12,"x":0.55,"act":1.06,"ivar":1.25,"delay":0.98,"init":1.2,"wdeg":0.7,"wgt":1.12},
{"g":12,"x":0.62,"act":0.94,"ivar":0.9,"delay":1.03,"init":0,"wdeg":1.05,"wgt":1.02},
{"g":12,"x":0.68,"act":1.1,"ivar":1.1,"delay":1.27,"init":3.3,"wdeg":0.65,"wgt":1.15},
{"g":12,"x":0.72,"act":0.86,"ivar":1.45,"delay":1.0,"init":0.4,"wdeg":0.95,"wgt":0.98},
{"g":12,"x":0.79,"act":1.02,"ivar":0.88,"delay":0.97,"init":0,"wdeg":1.2,"wgt":1.2},
{"g":12,"x":0.85,"act":0.95,"ivar":1.05,"delay":1.02,"init":1.4,"wdeg":0.88,"wgt":1.05},
{"g":12,"x":0.9,"act":1.1,"ivar":1.2,"delay":1.27,"init":0.1,"wdeg":0.6,"wgt":0.9},
{"g":12,"x":0.97,"act":0.9,"ivar":0.8,"delay":0.99,"init":0.6,"wdeg":1.15,"wgt":1.1},
{"g":12,"x":1.03,"act":1.04,"ivar":1.3,"delay":1.04,"init":0,"wdeg":1.0,"wgt":0.98},
{"g":12,"x":1.09,"act":0.95,"ivar":0.92,"delay":0.745,"init":2.2,"wdeg":1.3,"wgt":1.16},
{"g":12,"x":1.13,"act":1.12,"ivar":1.1,"delay":1.01,"init":0.2,"wdeg":0.85,"wgt":0.88},
{"g":12,"x":1.2,"act":0.98,"ivar":0.7,"delay":0.97,"init":0,"wdeg":1.05,"wgt":1.05},
{"g":12,"x":1.26,"act":1.04,"ivar":1.0,"delay":1.03,"init":1.0,"wdeg":1.25,"wgt":0.94},
{"g":12,"x":1.32,"act":0.92,"ivar":0.85,"delay":1.0,"init":0.05,"wdeg":0.9,"wgt":1.12},
{"g":12,"x":1.38,"act":1.1,"ivar":1.2,"delay":1.26,"init":0.4,"wdeg":1.1,"wgt":0.86},
{"g":12,"x":1.44,"act":1.0,"ivar":0.72,"delay":0.98,"init":0,"wdeg":1.4,"wgt":1.02},
{"g":12,"x":1.5,"act":0.94,"ivar":0.95,"delay":1.02,"init":1.6,"wdeg":0.98,"wgt":0.94},
{"g":12,"x":1.56,"act":1.08,"ivar":1.1,"delay":1.0,"init":0.1,"wdeg":1.2,"wgt":1.08},
{"g":12,"x":1.62,"act":0.98,"ivar":0.8,"delay":0.96,"init":0,"wdeg":1.05,"wgt":0.86},
{"g":12,"x":1.68,"act":1.12,"ivar":0.95,"delay":1.26,"init":0.8,"wdeg":1.3,"wgt":1.0},
{"g":12,"x":1.74,"act":1.0,"ivar":0.7,"delay":1.02,"init":0.2,"wdeg":0.95,"wgt":0.92},
{"g":12,"x":1.8,"act":0.94,"ivar":1.1,"delay":0.99,"init":0,"wdeg":1.15,"wgt":1.05},
{"g":12,"x":1.86,"act":1.08,"ivar":0.85,"delay":1.01,"init":1.5,"wdeg":1.5,"wgt":0.84},
{"g":12,"x":1.92,"act":1.0,"ivar":0.94,"delay":0.745,"init":0.05,"wdeg":1.1,"wgt":0.98},
{"g":12,"x":1.98,"act":0.92,"ivar":0.76,"delay":1.03,"init":0,"wdeg":1.35,"wgt":1.06},
{"g":12,"x":2.05,"act":1.04,"ivar":0.98,"delay":1.0,"init":0.6,"wdeg":1.2,"wgt":0.9},
{"g":12,"x":2.11,"act":0.97,"ivar":0.82,"delay":0.97,"init":0,"wdeg":1.45,"wgt":1.0},
{"g":12,"x":2.16,"act":1.08,"ivar":0.7,"delay":1.02,"init":0.9,"wdeg":1.05,"wgt":0.86},
{"g":12,"x":2.22,"act":0.95,"ivar":0.9,"delay":0.99,"init":0,"wdeg":1.4,"wgt":0.95},
{"g":12,"x":2.28,"act":1.04,"ivar":0.75,"delay":1.01,"init":0.2,"wdeg":1.6,"wgt":1.08},
{"g":12,"x":2.34,"act":1.0,"ivar":0.66,"delay":0.745,"init":0,"wdeg":1.25,"wgt":0.92},
{"g":12,"x":2.42,"act":1.05,"ivar":0.78,"delay":0.98,"init":0.1,"wdeg":1.3,"wgt":0.96},
{"g":12,"x":2.5,"act":0.98,"ivar":0.86,"delay":1.0,"init":0,"wdeg":1.5,"wgt":0.88},
{"g":12,"x":2.58,"act":1.06,"ivar":0.7,"delay":0.97,"init":0.3,"wdeg":1.2,"wgt":1.0},
{"g":12,"x":2.68,"act":1.0,"ivar":0.76,"delay":0.99,"init":0,"wdeg":1.65,"wgt":0.84},
{"g":12,"x":2.8,"act":1.08,"ivar":0.8,"delay":1.0,"init":0,"wdeg":1.35,"wgt":0.95},
{"g":12,"x":2.95,"act":0.99,"ivar":0.72,"delay":0.97,"init":0.1,"wdeg":1.45,"wgt":0.8}
],
"box":[
{"p":"A1","c":0.3,"x0":0.05,"x1":0.55,"lo":0.538,"q1":0.84,"med":0.962,"q3":1.043,"hi":1.343},
{"p":"A1","c":1.8,"x0":1.18,"x1":2.42,"lo":0.581,"q1":0.895,"med":0.992,"q3":1.116,"hi":1.451},
{"p":"A1","c":3.3,"x0":3.05,"x1":3.55,"lo":0.716,"q1":0.968,"med":1.073,"q3":1.13,"hi":1.368},
{"p":"B1","c":0.3,"x0":0.05,"x1":0.55,"lo":0.562,"q1":0.865,"med":0.988,"q3":1.363,"hi":2.026},
{"p":"B1","c":1.8,"x0":1.18,"x1":2.42,"lo":0.49,"q1":0.822,"med":0.908,"q3":1.054,"hi":1.415},
{"p":"B1","c":3.3,"x0":3.05,"x1":3.55,"lo":0.675,"q1":0.808,"med":0.851,"q3":0.893,"hi":1.059},
{"p":"C1","c":0.3,"x0":0.05,"x1":0.55,"lo":0.612,"q1":0.891,"med":0.977,"q3":1.113,"hi":1.423},
{"p":"C1","c":1.8,"x0":1.18,"x1":2.42,"lo":0.713,"q1":0.918,"med":0.992,"q3":1.082,"hi":1.326},
{"p":"C1","c":3.3,"x0":3.05,"x1":3.55,"lo":0.864,"q1":0.942,"med":0.973,"q3":1.0,"hi":1.074},
{"p":"A2","c":0.3,"x0":0.05,"x1":0.55,"lo":0.671,"q1":0.873,"med":0.97,"q3":1.042,"hi":1.282},
{"p":"A2","c":1.8,"x0":1.18,"x1":2.42,"lo":0.824,"q1":0.96,"med":1.013,"q3":1.056,"hi":1.196},
{"p":"A2","c":3.3,"x0":3.05,"x1":3.55,"lo":0.889,"q1":0.997,"med":1.027,"q3":1.078,"hi":1.188},
{"p":"B2","c":0.3,"x0":0.05,"x1":0.55,"lo":0.659,"q1":0.934,"med":1.088,"q3":1.445,"hi":2.132},
{"p":"B2","c":1.8,"x0":1.18,"x1":2.42,"lo":0.538,"q1":0.802,"med":0.934,"q3":1.093,"hi":1.538},
{"p":"B2","c":3.3,"x0":3.05,"x1":3.55,"lo":0.577,"q1":0.742,"med":0.808,"q3":0.945,"hi":1.253},
{"p":"C2","c":0.3,"x0":0.05,"x1":0.55,"lo":0.888,"q1":0.978,"med":1.024,"q3":1.114,"hi":1.282},
{"p":"C2","c":1.8,"x0":1.18,"x1":2.42,"lo":0.888,"q1":0.968,"med":1.0,"q3":1.029,"hi":1.108},
{"p":"C2","c":3.3,"x0":3.05,"x1":3.55,"lo":0.869,"q1":0.939,"med":0.976,"q3":1.014,"hi":1.052},
{"p":"D1","c":0.3,"x0":0.05,"x1":0.55,"lo":0.0,"q1":0.427,"med":0.811,"q3":1.152,"hi":2.347},
{"p":"D1","c":1.8,"x0":1.18,"x1":2.42,"lo":0.0,"q1":0.192,"med":0.704,"q3":1.429,"hi":3.317},
{"p":"D1","c":3.3,"x0":3.05,"x1":3.55,"lo":0.0,"q1":0.437,"med":0.8,"q3":1.205,"hi":2.325},
{"p":"E1","c":0.3,"x0":0.05,"x1":0.55,"lo":0.052,"q1":0.424,"med":0.705,"q3":1.031,"hi":1.678},
{"p":"E1","c":1.8,"x0":1.18,"x1":2.42,"lo":0.065,"q1":0.751,"med":1.012,"q3":1.273,"hi":1.906},
{"p":"E1","c":3.3,"x0":3.05,"x1":3.55,"lo":0.718,"q1":1.116,"med":1.305,"q3":1.403,"hi":1.782},
{"p":"F1","c":0.3,"x0":0.05,"x1":0.55,"lo":0.826,"q1":1.03,"med":1.12,"q3":1.205,"hi":1.438},
{"p":"F1","c":1.8,"x0":1.18,"x1":2.42,"lo":0.646,"q1":0.914,"med":1.007,"q3":1.094,"hi":1.359},
{"p":"F1","c":3.3,"x0":3.05,"x1":3.55,"lo":0.71,"q1":0.858,"med":0.943,"q3":1.024,"hi":1.249},
{"p":"D2","c":0.3,"x0":0.05,"x1":0.55,"lo":0.03,"q1":0.255,"med":1.129,"q3":2.622,"hi":5.771},
{"p":"D2","c":1.8,"x0":1.18,"x1":2.42,"lo":0.03,"q1":0.07,"med":0.22,"q3":1.256,"hi":3.077},
{"p":"D2","c":3.3,"x0":3.05,"x1":3.55,"lo":0.036,"q1":0.04,"med":0.164,"q3":0.546,"hi":1.22},
{"p":"E2","c":0.3,"x0":0.05,"x1":0.55,"lo":0.013,"q1":0.409,"med":0.718,"q3":1.039,"hi":1.574},
{"p":"E2","c":1.8,"x0":1.18,"x1":2.42,"lo":0.139,"q1":0.768,"med":0.989,"q3":1.228,"hi":1.902},
{"p":"E2","c":3.3,"x0":3.05,"x1":3.55,"lo":0.793,"q1":1.127,"med":1.354,"q3":1.492,"hi":2.015},
{"p":"F2","c":0.3,"x0":0.05,"x1":0.55,"lo":0.795,"q1":1.034,"med":1.128,"q3":1.219,"hi":1.433},
{"p":"F2","c":1.8,"x0":1.18,"x1":2.42,"lo":0.588,"q1":0.893,"med":1.003,"q3":1.1,"hi":1.424},
{"p":"F2","c":3.3,"x0":3.05,"x1":3.55,"lo":0.688,"q1":0.83,"med":0.915,"q3":1.006,"hi":1.204}
],
"sig":[
{"p":"A1","a":0.3,"b":3.3,"y":1.592,"m":1.8,"t":"*** (M)"},
{"p":"A1","a":0.3,"b":1.78,"y":1.484,"m":1.03,"t":"n.s."},
{"p":"A1","a":1.82,"b":3.3,"y":1.484,"m":2.56,"t":"*** (S)"},
{"p":"B1","a":0.3,"b":3.3,"y":2.3,"m":1.75,"t":"*** (L)"},
{"p":"B1","a":0.3,"b":1.8,"y":2.11,"m":0.97,"t":"*** (S)"},
{"p":"B1","a":1.8,"b":3.3,"y":1.51,"m":2.51,"t":"*** (M)"},
{"p":"C1","a":0.3,"b":3.3,"y":1.753,"m":1.77,"t":"*** (N)"},
{"p":"C1","a":0.3,"b":1.8,"y":1.493,"m":1.04,"t":"*** (N)"},
{"p":"C1","a":1.8,"b":3.3,"y":1.365,"m":2.58,"t":"*** (N)"},
{"p":"A2","a":0.3,"b":3.3,"y":1.41,"m":1.81,"t":"*** (M)"},
{"p":"A2","a":0.3,"b":1.8,"y":1.319,"m":1.0,"t":"***(S)"},
{"p":"A2","a":1.8,"b":3.3,"y":1.233,"m":2.55,"t":"*** (S)"},
{"p":"B2","a":0.3,"b":3.3,"y":2.516,"m":1.75,"t":"*** (L)"},
{"p":"B2","a":0.3,"b":1.8,"y":2.225,"m":1.0,"t":"*** (M)"},
{"p":"B2","a":1.8,"b":3.3,"y":1.654,"m":2.54,"t":"*** (M)"},
{"p":"C2","a":0.3,"b":3.3,"y":1.443,"m":1.78,"t":"*** (L)"},
{"p":"C2","a":0.3,"b":1.8,"y":1.322,"m":1.04,"t":"*** (S)"},
{"p":"C2","a":1.8,"b":3.3,"y":1.15,"m":2.61,"t":"*** (S)"},
{"p":"D1","a":0.3,"b":3.3,"y":4.05,"m":1.76,"t":"*** (N)"},
{"p":"D1","a":0.3,"b":1.78,"y":3.54,"m":1.09,"t":"*** (N)"},
{"p":"D1","a":1.82,"b":3.3,"y":3.54,"m":2.59,"t":"*** (N)"},
{"p":"E1","a":0.3,"b":3.3,"y":2.526,"m":1.85,"t":"*** (L)"},
{"p":"E1","a":0.3,"b":1.78,"y":2.089,"m":1.09,"t":"*** (M)"},
{"p":"E1","a":1.82,"b":3.3,"y":2.089,"m":2.58,"t":"*** (L)"},
{"p":"F1","a":0.3,"b":3.3,"y":1.68,"m":1.74,"t":"*** (L)"},
{"p":"F1","a":0.3,"b":1.8,"y":1.467,"m":1.06,"t":"*** (M)"},
{"p":"F1","a":1.85,"b":3.3,"y":1.394,"m":2.5,"t":"*** (S)"},
{"p":"D2","a":0.3,"b":3.3,"y":6.88,"m":1.81,"t":"*** (M)"},
{"p":"D2","a":0.3,"b":1.8,"y":6.13,"m":1.04,"t":"*** (S)"},
{"p":"D2","a":1.8,"b":3.3,"y":3.48,"m":2.45,"t":"***(S)"},
{"p":"E2","a":0.3,"b":3.3,"y":2.456,"m":1.74,"t":"*** (L)"},
{"p":"E2","a":0.3,"b":1.78,"y":2.04,"m":0.99,"t":"*** (M)"},
{"p":"E2","a":1.82,"b":3.3,"y":2.154,"m":2.52,"t":"*** (L)"},
{"p":"F2","a":0.3,"b":3.3,"y":1.731,"m":1.71,"t":"*** (L)"},
{"p":"F2","a":0.3,"b":1.78,"y":1.527,"m":0.98,"t":"*** (M)"},
{"p":"F2","a":1.85,"b":3.3,"y":1.527,"m":2.44,"t":"*** (S)"}
],
"leg":[
{"g":"8 mM glucose","a":25.0,"b":30.4},
{"g":"12 mM glucose","a":53.9,"b":59.3}
]
},
"vconcat":[
{"vconcat":[
{"vconcat":[
{"hconcat":[
{"width":147,"height":147,
"title":{"text":"A","anchor":"start","frame":"group","dx":-54,"dy":14,"offset":0,"fontSize":16,"fontWeight":"bold","font":"DejaVu Sans","color":"black"},
"layer":[
{"data":{"name":"cells"},"transform":[{"filter":"datum.g==8"}],"mark":{"type":"circle","size":30,"color":"#808080","opacity":0.72},"encoding":{"x":{"field":"x","type":"quantitative","scale":{"domain":[0,3.6],"nice":false,"zero":false},"axis":{"orient":"bottom","values":[0,0.9,1.8,2.7,3.6],"format":".1f","labelOverlap":false,"title":"Corr. net. node degree"}},"y":{"field":"act","type":"quantitative","scale":{"domain":[0.51,1.69],"nice":false,"zero":false},"axis":{"values":[0.6,0.8,1,1.2,1.4,1.6],"format":".1f","labelOverlap":false,"title":"Relative active time"}}}},
{"data":{"name":"box"},"transform":[{"filter":"datum.p=='A1'"}],"mark":{"type":"rule","color":"black","strokeWidth":1.5},"encoding":{"x":{"field":"c","type":"quantitative","axis":null},"y":{"field":"lo","type":"quantitative","axis":null},"y2":{"field":"q1"}}},
{"data":{"name":"box"},"transform":[{"filter":"datum.p=='A1'"}],"mark":{"type":"rule","color":"black","strokeWidth":1.5},"encoding":{"x":{"field":"c","type":"quantitative","axis":null},"y":{"field":"q3","type":"quantitative","axis":null},"y2":{"field":"hi"}}},
{"data":{"name":"box"},"transform":[{"filter":"datum.p=='A1'"},{"fold":["lo","hi"],"as":["k","v"]}],"mark":{"type":"tick","orient":"horizontal","color":"black","thickness":1.5},"encoding":{"x":{"field":"c","type":"quantitative","axis":null},"y":{"field":"v","type":"quantitative","axis":null},"size":{"condition":{"test":"datum.c==1.8","value":23},"value":11}}},
{"data":{"name":"box"},"transform":[{"filter":"datum.p=='A1'"}],"mark":{"type":"rect","fill":"#78F0EC","fillOpacity":0.88,"stroke":"black","strokeWidth":1.5},"encoding":{"x":{"field":"x0","type":"quantitative","axis":{"orient":"top","values":[0.3,1.8,3.3],"labelExpr":"datum.value<1?'1/6':datum.value<2.5?'2/3':'1/6'","title":"lowest\u00a0\u00a0intermediate\u00a0\u00a0highest"}},"x2":{"field":"x1"},"y":{"field":"q1","type":"quantitative","axis":null},"y2":{"field":"q3"}}},
{"data":{"name":"box"},"transform":[{"filter":"datum.p=='A1'"}],"mark":{"type":"rule","color":"black","strokeWidth":1.5},"encoding":{"x":{"field":"x0","type":"quantitative","axis":null},"x2":{"field":"x1"},"y":{"field":"med","type":"quantitative","axis":null}}},
{"data":{"name":"sig"},"transform":[{"filter":"datum.p=='A1'"}],"mark":{"type":"rule","color":"#333","strokeWidth":1},"encoding":{"x":{"field":"a","type":"quantitative","axis":null},"x2":{"field":"b"},"y":{"field":"y","type":"quantitative","axis":null}}},
{"data":{"name":"sig"},"transform":[{"filter":"datum.p=='A1'"}],"mark":{"type":"text","font":"Liberation Serif","fontSize":11,"baseline":"bottom","dy":-1,"color":"#222"},"encoding":{"x":{"field":"m","type":"quantitative","axis":null},"y":{"field":"y","type":"quantitative","axis":null},"text":{"field":"t"}}}
],
"resolve":{"axis":{"x":"independent","y":"independent"}}},
{"width":147,"height":147,
"title":{"text":"B","anchor":"start","frame":"group","dx":-72,"dy":14,"offset":0,"fontSize":16,"fontWeight":"bold","font":"DejaVu Sans","color":"black"},
"layer":[
{"data":{"name":"cells"},"transform":[{"filter":"datum.g==8"}],"mark":{"type":"circle","size":30,"color":"#808080","opacity":0.72},"encoding":{"x":{"field":"x","type":"quantitative","scale":{"domain":[0,3.6],"nice":false,"zero":false},"axis":{"orient":"bottom","values":[0,0.9,1.8,2.7,3.6],"format":".1f","labelOverlap":false,"title":"Corr. net. node degree"}},"y":{"field":"ivar","type":"quantitative","scale":{"domain":[0.415,2.51],"nice":false,"zero":false},"axis":{"values":[0.5,1,1.5,2,2.5],"format":".1f","labelOverlap":false,"title":["Interoscillation interval","variability"]}}}},
{"data":{"name":"box"},"transform":[{"filter":"datum.p=='B1'"}],"mark":{"type":"rule","color":"black","strokeWidth":1.5},"encoding":{"x":{"field":"c","type":"quantitative","axis":null},"y":{"field":"lo","type":"quantitative","axis":null},"y2":{"field":"q1"}}},
{"data":{"name":"box"},"transform":[{"filter":"datum.p=='B1'"}],"mark":{"type":"rule","color":"black","strokeWidth":1.5},"encoding":{"x":{"field":"c","type":"quantitative","axis":null},"y":{"field":"q3","type":"quantitative","axis":null},"y2":{"field":"hi"}}},
{"data":{"name":"box"},"transform":[{"filter":"datum.p=='B1'"},{"fold":["lo","hi"],"as":["k","v"]}],"mark":{"type":"tick","orient":"horizontal","color":"black","thickness":1.5},"encoding":{"x":{"field":"c","type":"quantitative","axis":null},"y":{"field":"v","type":"quantitative","axis":null},"size":{"condition":{"test":"datum.c==1.8","value":23},"value":11}}},
{"data":{"name":"box"},"transform":[{"filter":"datum.p=='B1'"}],"mark":{"type":"rect","fill":"#78F0EC","fillOpacity":0.88,"stroke":"black","strokeWidth":1.5},"encoding":{"x":{"field":"x0","type":"quantitative","axis":{"orient":"top","values":[0.3,1.8,3.3],"labelExpr":"datum.value<1?'1/6':datum.value<2.5?'2/3':'1/6'","title":"lowest\u00a0\u00a0intermediate\u00a0\u00a0highest"}},"x2":{"field":"x1"},"y":{"field":"q1","type":"quantitative","axis":null},"y2":{"field":"q3"}}},
{"data":{"name":"box"},"transform":[{"filter":"datum.p=='B1'"}],"mark":{"type":"rule","color":"black","strokeWidth":1.5},"encoding":{"x":{"field":"x0","type":"quantitative","axis":null},"x2":{"field":"x1"},"y":{"field":"med","type":"quantitative","axis":null}}},
{"data":{"name":"sig"},"transform":[{"filter":"datum.p=='B1'"}],"mark":{"type":"rule","color":"#333","strokeWidth":1},"encoding":{"x":{"field":"a","type":"quantitative","axis":null},"x2":{"field":"b"},"y":{"field":"y","type":"quantitative","axis":null}}},
{"data":{"name":"sig"},"transform":[{"filter":"datum.p=='B1'"}],"mark":{"type":"text","font":"Liberation Serif","fontSize":11,"baseline":"bottom","dy":-1,"color":"#222"},"encoding":{"x":{"field":"m","type":"quantitative","axis":null},"y":{"field":"y","type":"quantitative","axis":null},"text":{"field":"t"}}}
],
"resolve":{"axis":{"x":"independent","y":"independent"}}},
{"width":147,"height":147,
"title":{"text":"C","anchor":"start","frame":"group","dx":-67,"dy":14,"offset":0,"fontSize":16,"fontWeight":"bold","font":"DejaVu Sans","color":"black"},
"layer":[
{"data":{"name":"cells"},"transform":[{"filter":"datum.g==8"}],"mark":{"type":"circle","size":30,"color":"#808080","opacity":0.72},"encoding":{"x":{"field":"x","type":"quantitative","scale":{"domain":[0,3.6],"nice":false,"zero":false},"axis":{"orient":"bottom","values":[0,0.9,1.8,2.7,3.6],"format":".1f","labelOverlap":false,"title":"Corr. net. node degree"}},"y":{"field":"delay","type":"quantitative","scale":{"domain":[0.2,1.92],"nice":false,"zero":false},"axis":{"values":[0.2,0.6,1,1.4,1.8],"format":".1f","labelOverlap":false,"title":"Activation delay"}}}},
{"data":{"name":"box"},"transform":[{"filter":"datum.p=='C1'"}],"mark":{"type":"rule","color":"black","strokeWidth":1.5},"encoding":{"x":{"field":"c","type":"quantitative","axis":null},"y":{"field":"lo","type":"quantitative","axis":null},"y2":{"field":"q1"}}},
{"data":{"name":"box"},"transform":[{"filter":"datum.p=='C1'"}],"mark":{"type":"rule","color":"black","strokeWidth":1.5},"encoding":{"x":{"field":"c","type":"quantitative","axis":null},"y":{"field":"q3","type":"quantitative","axis":null},"y2":{"field":"hi"}}},
{"data":{"name":"box"},"transform":[{"filter":"datum.p=='C1'"},{"fold":["lo","hi"],"as":["k","v"]}],"mark":{"type":"tick","orient":"horizontal","color":"black","thickness":1.5},"encoding":{"x":{"field":"c","type":"quantitative","axis":null},"y":{"field":"v","type":"quantitative","axis":null},"size":{"condition":{"test":"datum.c==1.8","value":23},"value":11}}},
{"data":{"name":"box"},"transform":[{"filter":"datum.p=='C1'"}],"mark":{"type":"rect","fill":"#78F0EC","fillOpacity":0.88,"stroke":"black","strokeWidth":1.5},"encoding":{"x":{"field":"x0","type":"quantitative","axis":{"orient":"top","values":[0.3,1.8,3.3],"labelExpr":"datum.value<1?'1/6':datum.value<2.5?'2/3':'1/6'","title":"lowest\u00a0\u00a0intermediate\u00a0\u00a0highest"}},"x2":{"field":"x1"},"y":{"field":"q1","type":"quantitative","axis":null},"y2":{"field":"q3"}}},
{"data":{"name":"box"},"transform":[{"filter":"datum.p=='C1'"}],"mark":{"type":"rule","color":"black","strokeWidth":1.5},"encoding":{"x":{"field":"x0","type":"quantitative","axis":null},"x2":{"field":"x1"},"y":{"field":"med","type":"quantitative","axis":null}}},
{"data":{"name":"sig"},"transform":[{"filter":"datum.p=='C1'"}],"mark":{"type":"rule","color":"#333","strokeWidth":1},"encoding":{"x":{"field":"a","type":"quantitative","axis":null},"x2":{"field":"b"},"y":{"field":"y","type":"quantitative","axis":null}}},
{"data":{"name":"sig"},"transform":[{"filter":"datum.p=='C1'"}],"mark":{"type":"text","font":"Liberation Serif","fontSize":11,"baseline":"bottom","dy":-1,"color":"#222"},"encoding":{"x":{"field":"m","type":"quantitative","axis":null},"y":{"field":"y","type":"quantitative","axis":null},"text":{"field":"t"}}}
],
"resolve":{"axis":{"x":"independent","y":"independent"}}}
],"spacing":128,"bounds":"flush"},
{"hconcat":[
{"width":147,"height":147,
"layer":[
{"data":{"name":"cells"},"transform":[{"filter":"datum.g==12"}],"mark":{"type":"circle","size":30,"color":"#808080","opacity":0.72},"encoding":{"x":{"field":"x","type":"quantitative","scale":{"domain":[0,3.6],"nice":false,"zero":false},"axis":{"orient":"bottom","values":[0,0.9,1.8,2.7,3.6],"format":".1f","labelOverlap":false,"title":"Corr. net. node degree"}},"y":{"field":"act","type":"quantitative","scale":{"domain":[0.6,1.5],"nice":false,"zero":false},"axis":{"values":[0.6,0.8,1,1.2,1.4],"format":".1f","labelOverlap":false,"title":"Relative active time"}}}},
{"data":{"name":"box"},"transform":[{"filter":"datum.p=='A2'"}],"mark":{"type":"rule","color":"black","strokeWidth":1.5},"encoding":{"x":{"field":"c","type":"quantitative","axis":null},"y":{"field":"lo","type":"quantitative","axis":null},"y2":{"field":"q1"}}},
{"data":{"name":"box"},"transform":[{"filter":"datum.p=='A2'"}],"mark":{"type":"rule","color":"black","strokeWidth":1.5},"encoding":{"x":{"field":"c","type":"quantitative","axis":null},"y":{"field":"q3","type":"quantitative","axis":null},"y2":{"field":"hi"}}},
{"data":{"name":"box"},"transform":[{"filter":"datum.p=='A2'"},{"fold":["lo","hi"],"as":["k","v"]}],"mark":{"type":"tick","orient":"horizontal","color":"black","thickness":1.5},"encoding":{"x":{"field":"c","type":"quantitative","axis":null},"y":{"field":"v","type":"quantitative","axis":null},"size":{"condition":{"test":"datum.c==1.8","value":23},"value":11}}},
{"data":{"name":"box"},"transform":[{"filter":"datum.p=='A2'"}],"mark":{"type":"rect","fill":"#3010EE","fillOpacity":0.9,"stroke":"black","strokeWidth":1.5},"encoding":{"x":{"field":"x0","type":"quantitative","axis":{"orient":"top","values":[0.3,1.8,3.3],"labelExpr":"datum.value<1?'1/6':datum.value<2.5?'2/3':'1/6'","title":"lowest\u00a0\u00a0intermediate\u00a0\u00a0highest"}},"x2":{"field":"x1"},"y":{"field":"q1","type":"quantitative","axis":null},"y2":{"field":"q3"}}},
{"data":{"name":"box"},"transform":[{"filter":"datum.p=='A2'"}],"mark":{"type":"rule","color":"black","strokeWidth":1.5},"encoding":{"x":{"field":"x0","type":"quantitative","axis":null},"x2":{"field":"x1"},"y":{"field":"med","type":"quantitative","axis":null}}},
{"data":{"name":"sig"},"transform":[{"filter":"datum.p=='A2'"}],"mark":{"type":"rule","color":"#333","strokeWidth":1},"encoding":{"x":{"field":"a","type":"quantitative","axis":null},"x2":{"field":"b"},"y":{"field":"y","type":"quantitative","axis":null}}},
{"data":{"name":"sig"},"transform":[{"filter":"datum.p=='A2'"}],"mark":{"type":"text","font":"Liberation Serif","fontSize":11,"baseline":"bottom","dy":-1,"color":"#222"},"encoding":{"x":{"field":"m","type":"quantitative","axis":null},"y":{"field":"y","type":"quantitative","axis":null},"text":{"field":"t"}}}
],
"resolve":{"axis":{"x":"independent","y":"independent"}}},
{"width":147,"height":147,
"layer":[
{"data":{"name":"cells"},"transform":[{"filter":"datum.g==12"}],"mark":{"type":"circle","size":30,"color":"#808080","opacity":0.72},"encoding":{"x":{"field":"x","type":"quantitative","scale":{"domain":[0,3.6],"nice":false,"zero":false},"axis":{"orient":"bottom","values":[0,0.9,1.8,2.7,3.6],"format":".1f","labelOverlap":false,"title":"Corr. net. node degree"}},"y":{"field":"ivar","type":"quantitative","scale":{"domain":[0.385,2.8],"nice":false,"zero":false},"axis":{"values":[0.5,1,1.5,2,2.5],"format":".1f","labelOverlap":false,"title":["Interoscillation interval","variability"]}}}},
{"data":{"name":"box"},"transform":[{"filter":"datum.p=='B2'"}],"mark":{"type":"rule","color":"black","strokeWidth":1.5},"encoding":{"x":{"field":"c","type":"quantitative","axis":null},"y":{"field":"lo","type":"quantitative","axis":null},"y2":{"field":"q1"}}},
{"data":{"name":"box"},"transform":[{"filter":"datum.p=='B2'"}],"mark":{"type":"rule","color":"black","strokeWidth":1.5},"encoding":{"x":{"field":"c","type":"quantitative","axis":null},"y":{"field":"q3","type":"quantitative","axis":null},"y2":{"field":"hi"}}},
{"data":{"name":"box"},"transform":[{"filter":"datum.p=='B2'"},{"fold":["lo","hi"],"as":["k","v"]}],"mark":{"type":"tick","orient":"horizontal","color":"black","thickness":1.5},"encoding":{"x":{"field":"c","type":"quantitative","axis":null},"y":{"field":"v","type":"quantitative","axis":null},"size":{"condition":{"test":"datum.c==1.8","value":23},"value":11}}},
{"data":{"name":"box"},"transform":[{"filter":"datum.p=='B2'"}],"mark":{"type":"rect","fill":"#3010EE","fillOpacity":0.9,"stroke":"black","strokeWidth":1.5},"encoding":{"x":{"field":"x0","type":"quantitative","axis":{"orient":"top","values":[0.3,1.8,3.3],"labelExpr":"datum.value<1?'1/6':datum.value<2.5?'2/3':'1/6'","title":"lowest\u00a0\u00a0intermediate\u00a0\u00a0highest"}},"x2":{"field":"x1"},"y":{"field":"q1","type":"quantitative","axis":null},"y2":{"field":"q3"}}},
{"data":{"name":"box"},"transform":[{"filter":"datum.p=='B2'"}],"mark":{"type":"rule","color":"black","strokeWidth":1.5},"encoding":{"x":{"field":"x0","type":"quantitative","axis":null},"x2":{"field":"x1"},"y":{"field":"med","type":"quantitative","axis":null}}},
{"data":{"name":"sig"},"transform":[{"filter":"datum.p=='B2'"}],"mark":{"type":"rule","color":"#333","strokeWidth":1},"encoding":{"x":{"field":"a","type":"quantitative","axis":null},"x2":{"field":"b"},"y":{"field":"y","type":"quantitative","axis":null}}},
{"data":{"name":"sig"},"transform":[{"filter":"datum.p=='B2'"}],"mark":{"type":"text","font":"Liberation Serif","fontSize":11,"baseline":"bottom","dy":-1,"color":"#222"},"encoding":{"x":{"field":"m","type":"quantitative","axis":null},"y":{"field":"y","type":"quantitative","axis":null},"text":{"field":"t"}}}
],
"resolve":{"axis":{"x":"independent","y":"independent"}}},
{"width":147,"height":147,
"layer":[
{"data":{"name":"cells"},"transform":[{"filter":"datum.g==12"}],"mark":{"type":"circle","size":30,"color":"#808080","opacity":0.72},"encoding":{"x":{"field":"x","type":"quantitative","scale":{"domain":[0,3.6],"nice":false,"zero":false},"axis":{"orient":"bottom","values":[0,0.9,1.8,2.7,3.6],"format":".1f","labelOverlap":false,"title":"Corr. net. node degree"}},"y":{"field":"delay","type":"quantitative","scale":{"domain":[0.7,1.61],"nice":false,"zero":false},"axis":{"values":[0.7,1,1.3,1.6],"format":".1f","labelOverlap":false,"title":"Activation delay"}}}},
{"data":{"name":"box"},"transform":[{"filter":"datum.p=='C2'"}],"mark":{"type":"rule","color":"black","strokeWidth":1.5},"encoding":{"x":{"field":"c","type":"quantitative","axis":null},"y":{"field":"lo","type":"quantitative","axis":null},"y2":{"field":"q1"}}},
{"data":{"name":"box"},"transform":[{"filter":"datum.p=='C2'"}],"mark":{"type":"rule","color":"black","strokeWidth":1.5},"encoding":{"x":{"field":"c","type":"quantitative","axis":null},"y":{"field":"q3","type":"quantitative","axis":null},"y2":{"field":"hi"}}},
{"data":{"name":"box"},"transform":[{"filter":"datum.p=='C2'"},{"fold":["lo","hi"],"as":["k","v"]}],"mark":{"type":"tick","orient":"horizontal","color":"black","thickness":1.5},"encoding":{"x":{"field":"c","type":"quantitative","axis":null},"y":{"field":"v","type":"quantitative","axis":null},"size":{"condition":{"test":"datum.c==1.8","value":23},"value":11}}},
{"data":{"name":"box"},"transform":[{"filter":"datum.p=='C2'"}],"mark":{"type":"rect","fill":"#3010EE","fillOpacity":0.9,"stroke":"black","strokeWidth":1.5},"encoding":{"x":{"field":"x0","type":"quantitative","axis":{"orient":"top","values":[0.3,1.8,3.3],"labelExpr":"datum.value<1?'1/6':datum.value<2.5?'2/3':'1/6'","title":"lowest\u00a0\u00a0intermediate\u00a0\u00a0highest"}},"x2":{"field":"x1"},"y":{"field":"q1","type":"quantitative","axis":null},"y2":{"field":"q3"}}},
{"data":{"name":"box"},"transform":[{"filter":"datum.p=='C2'"}],"mark":{"type":"rule","color":"black","strokeWidth":1.5},"encoding":{"x":{"field":"x0","type":"quantitative","axis":null},"x2":{"field":"x1"},"y":{"field":"med","type":"quantitative","axis":null}}},
{"data":{"name":"sig"},"transform":[{"filter":"datum.p=='C2'"}],"mark":{"type":"rule","color":"#333","strokeWidth":1},"encoding":{"x":{"field":"a","type":"quantitative","axis":null},"x2":{"field":"b"},"y":{"field":"y","type":"quantitative","axis":null}}},
{"data":{"name":"sig"},"transform":[{"filter":"datum.p=='C2'"}],"mark":{"type":"text","font":"Liberation Serif","fontSize":11,"baseline":"bottom","dy":-1,"color":"#222"},"encoding":{"x":{"field":"m","type":"quantitative","axis":null},"y":{"field":"y","type":"quantitative","axis":null},"text":{"field":"t"}}}
],
"resolve":{"axis":{"x":"independent","y":"independent"}}}
],"spacing":128,"bounds":"flush"}
],"spacing":13},
{"vconcat":[
{"hconcat":[
{"width":147,"height":144,
"title":{"text":"D","anchor":"start","frame":"group","dx":-60,"dy":14,"offset":0,"fontSize":16,"fontWeight":"bold","font":"DejaVu Sans","color":"black"},
"layer":[
{"data":{"name":"cells"},"transform":[{"filter":"datum.g==8"}],"mark":{"type":"circle","size":30,"color":"#808080","opacity":0.72},"encoding":{"x":{"field":"x","type":"quantitative","scale":{"domain":[0,3.6],"nice":false,"zero":false},"axis":{"orient":"bottom","values":[0,0.9,1.8,2.7,3.6],"format":".1f","labelOverlap":false,"title":"Corr. net. node degree"}},"y":{"field":"init","type":"quantitative","scale":{"domain":[-0.07,4.46],"nice":false,"zero":false},"axis":{"values":[0,1,2,3,4],"format":"d","labelOverlap":false,"title":"Initiation parameter"}}}},
{"data":{"name":"box"},"transform":[{"filter":"datum.p=='D1'"}],"mark":{"type":"rule","color":"black","strokeWidth":1.5},"encoding":{"x":{"field":"c","type":"quantitative","axis":null},"y":{"field":"lo","type":"quantitative","axis":null},"y2":{"field":"q1"}}},
{"data":{"name":"box"},"transform":[{"filter":"datum.p=='D1'"}],"mark":{"type":"rule","color":"black","strokeWidth":1.5},"encoding":{"x":{"field":"c","type":"quantitative","axis":null},"y":{"field":"q3","type":"quantitative","axis":null},"y2":{"field":"hi"}}},
{"data":{"name":"box"},"transform":[{"filter":"datum.p=='D1'"},{"fold":["lo","hi"],"as":["k","v"]}],"mark":{"type":"tick","orient":"horizontal","color":"black","thickness":1.5},"encoding":{"x":{"field":"c","type":"quantitative","axis":null},"y":{"field":"v","type":"quantitative","axis":null},"size":{"condition":{"test":"datum.c==1.8","value":23},"value":11}}},
{"data":{"name":"box"},"transform":[{"filter":"datum.p=='D1'"}],"mark":{"type":"rect","fill":"#78F0EC","fillOpacity":0.88,"stroke":"black","strokeWidth":1.5},"encoding":{"x":{"field":"x0","type":"quantitative","axis":{"orient":"top","values":[0.3,1.8,3.3],"labelExpr":"datum.value<1?'1/6':datum.value<2.5?'2/3':'1/6'","title":"lowest\u00a0\u00a0intermediate\u00a0\u00a0highest"}},"x2":{"field":"x1"},"y":{"field":"q1","type":"quantitative","axis":null},"y2":{"field":"q3"}}},
{"data":{"name":"box"},"transform":[{"filter":"datum.p=='D1'"}],"mark":{"type":"rule","color":"black","strokeWidth":1.5},"encoding":{"x":{"field":"x0","type":"quantitative","axis":null},"x2":{"field":"x1"},"y":{"field":"med","type":"quantitative","axis":null}}},
{"data":{"name":"sig"},"transform":[{"filter":"datum.p=='D1'"}],"mark":{"type":"rule","color":"#333","strokeWidth":1},"encoding":{"x":{"field":"a","type":"quantitative","axis":null},"x2":{"field":"b"},"y":{"field":"y","type":"quantitative","axis":null}}},
{"data":{"name":"sig"},"transform":[{"filter":"datum.p=='D1'"}],"mark":{"type":"text","font":"Liberation Serif","fontSize":11,"baseline":"bottom","dy":-1,"color":"#222"},"encoding":{"x":{"field":"m","type":"quantitative","axis":null},"y":{"field":"y","type":"quantitative","axis":null},"text":{"field":"t"}}}
],
"resolve":{"axis":{"x":"independent","y":"independent"}}},
{"width":147,"height":144,
"title":{"text":"E","anchor":"start","frame":"group","dx":-68,"dy":14,"offset":0,"fontSize":16,"fontWeight":"bold","font":"DejaVu Sans","color":"black"},
"layer":[
{"data":{"name":"cells"},"transform":[{"filter":"datum.g==8"}],"mark":{"type":"circle","size":30,"color":"#808080","opacity":0.72},"encoding":{"x":{"field":"x","type":"quantitative","scale":{"domain":[0,3.6],"nice":false,"zero":false},"axis":{"orient":"bottom","values":[0,0.9,1.8,2.7,3.6],"format":".1f","labelOverlap":false,"title":"Corr. net. node degree"}},"y":{"field":"wdeg","type":"quantitative","scale":{"domain":[-0.01,2.78],"nice":false,"zero":false},"axis":{"values":[0,0.5,1,1.5,2,2.5],"format":".1f","labelOverlap":false,"title":["Average wave net.","node degree"]}}}},
{"data":{"name":"box"},"transform":[{"filter":"datum.p=='E1'"}],"mark":{"type":"rule","color":"black","strokeWidth":1.5},"encoding":{"x":{"field":"c","type":"quantitative","axis":null},"y":{"field":"lo","type":"quantitative","axis":null},"y2":{"field":"q1"}}},
{"data":{"name":"box"},"transform":[{"filter":"datum.p=='E1'"}],"mark":{"type":"rule","color":"black","strokeWidth":1.5},"encoding":{"x":{"field":"c","type":"quantitative","axis":null},"y":{"field":"q3","type":"quantitative","axis":null},"y2":{"field":"hi"}}},
{"data":{"name":"box"},"transform":[{"filter":"datum.p=='E1'"},{"fold":["lo","hi"],"as":["k","v"]}],"mark":{"type":"tick","orient":"horizontal","color":"black","thickness":1.5},"encoding":{"x":{"field":"c","type":"quantitative","axis":null},"y":{"field":"v","type":"quantitative","axis":null},"size":{"condition":{"test":"datum.c==1.8","value":23},"value":11}}},
{"data":{"name":"box"},"transform":[{"filter":"datum.p=='E1'"}],"mark":{"type":"rect","fill":"#78F0EC","fillOpacity":0.88,"stroke":"black","strokeWidth":1.5},"encoding":{"x":{"field":"x0","type":"quantitative","axis":{"orient":"top","values":[0.3,1.8,3.3],"labelExpr":"datum.value<1?'1/6':datum.value<2.5?'2/3':'1/6'","title":"lowest\u00a0\u00a0intermediate\u00a0\u00a0highest"}},"x2":{"field":"x1"},"y":{"field":"q1","type":"quantitative","axis":null},"y2":{"field":"q3"}}},
{"data":{"name":"box"},"transform":[{"filter":"datum.p=='E1'"}],"mark":{"type":"rule","color":"black","strokeWidth":1.5},"encoding":{"x":{"field":"x0","type":"quantitative","axis":null},"x2":{"field":"x1"},"y":{"field":"med","type":"quantitative","axis":null}}},
{"data":{"name":"sig"},"transform":[{"filter":"datum.p=='E1'"}],"mark":{"type":"rule","color":"#333","strokeWidth":1},"encoding":{"x":{"field":"a","type":"quantitative","axis":null},"x2":{"field":"b"},"y":{"field":"y","type":"quantitative","axis":null}}},
{"data":{"name":"sig"},"transform":[{"filter":"datum.p=='E1'"}],"mark":{"type":"text","font":"Liberation Serif","fontSize":11,"baseline":"bottom","dy":-1,"color":"#222"},"encoding":{"x":{"field":"m","type":"quantitative","axis":null},"y":{"field":"y","type":"quantitative","axis":null},"text":{"field":"t"}}}
],
"resolve":{"axis":{"x":"independent","y":"independent"}}},
{"width":147,"height":144,
"title":{"text":"F","anchor":"start","frame":"group","dx":-70,"dy":14,"offset":0,"fontSize":16,"fontWeight":"bold","font":"DejaVu Sans","color":"black"},
"layer":[
{"data":{"name":"cells"},"transform":[{"filter":"datum.g==8"}],"mark":{"type":"circle","size":30,"color":"#808080","opacity":0.72},"encoding":{"x":{"field":"x","type":"quantitative","scale":{"domain":[0,3.6],"nice":false,"zero":false},"axis":{"orient":"bottom","values":[0,0.9,1.8,2.7,3.6],"format":".1f","labelOverlap":false,"title":"Corr. net. node degree"}},"y":{"field":"wgt","type":"quantitative","scale":{"domain":[0.5,1.8],"nice":false,"zero":false},"axis":{"values":[0.5,0.9,1.3,1.7],"format":".1f","labelOverlap":false,"title":["Avg. node weight","in the wave network"]}}}},
{"data":{"name":"box"},"transform":[{"filter":"datum.p=='F1'"}],"mark":{"type":"rule","color":"black","strokeWidth":1.5},"encoding":{"x":{"field":"c","type":"quantitative","axis":null},"y":{"field":"lo","type":"quantitative","axis":null},"y2":{"field":"q1"}}},
{"data":{"name":"box"},"transform":[{"filter":"datum.p=='F1'"}],"mark":{"type":"rule","color":"black","strokeWidth":1.5},"encoding":{"x":{"field":"c","type":"quantitative","axis":null},"y":{"field":"q3","type":"quantitative","axis":null},"y2":{"field":"hi"}}},
{"data":{"name":"box"},"transform":[{"filter":"datum.p=='F1'"},{"fold":["lo","hi"],"as":["k","v"]}],"mark":{"type":"tick","orient":"horizontal","color":"black","thickness":1.5},"encoding":{"x":{"field":"c","type":"quantitative","axis":null},"y":{"field":"v","type":"quantitative","axis":null},"size":{"condition":{"test":"datum.c==1.8","value":23},"value":11}}},
{"data":{"name":"box"},"transform":[{"filter":"datum.p=='F1'"}],"mark":{"type":"rect","fill":"#78F0EC","fillOpacity":0.88,"stroke":"black","strokeWidth":1.5},"encoding":{"x":{"field":"x0","type":"quantitative","axis":{"orient":"top","values":[0.3,1.8,3.3],"labelExpr":"datum.value<1?'1/6':datum.value<2.5?'2/3':'1/6'","title":"lowest\u00a0\u00a0intermediate\u00a0\u00a0highest"}},"x2":{"field":"x1"},"y":{"field":"q1","type":"quantitative","axis":null},"y2":{"field":"q3"}}},
{"data":{"name":"box"},"transform":[{"filter":"datum.p=='F1'"}],"mark":{"type":"rule","color":"black","strokeWidth":1.5},"encoding":{"x":{"field":"x0","type":"quantitative","axis":null},"x2":{"field":"x1"},"y":{"field":"med","type":"quantitative","axis":null}}},
{"data":{"name":"sig"},"transform":[{"filter":"datum.p=='F1'"}],"mark":{"type":"rule","color":"#333","strokeWidth":1},"encoding":{"x":{"field":"a","type":"quantitative","axis":null},"x2":{"field":"b"},"y":{"field":"y","type":"quantitative","axis":null}}},
{"data":{"name":"sig"},"transform":[{"filter":"datum.p=='F1'"}],"mark":{"type":"text","font":"Liberation Serif","fontSize":11,"baseline":"bottom","dy":-1,"color":"#222"},"encoding":{"x":{"field":"m","type":"quantitative","axis":null},"y":{"field":"y","type":"quantitative","axis":null},"text":{"field":"t"}}}
],
"resolve":{"axis":{"x":"independent","y":"independent"}}}
],"spacing":128,"bounds":"flush"},
{"hconcat":[
{"width":147,"height":143,
"layer":[
{"data":{"name":"cells"},"transform":[{"filter":"datum.g==12"}],"mark":{"type":"circle","size":30,"color":"#808080","opacity":0.72},"encoding":{"x":{"field":"x","type":"quantitative","scale":{"domain":[0,3.6],"nice":false,"zero":false},"axis":{"orient":"bottom","values":[0,0.9,1.8,2.7,3.6],"format":".1f","labelOverlap":false,"title":"Corr. net. node degree"}},"y":{"field":"init","type":"quantitative","scale":{"domain":[-0.05,7.55],"nice":false,"zero":false},"axis":{"values":[0,1.5,3,4.5,6,7.5],"format":".1f","labelOverlap":false,"title":"Initiation parameter"}}}},
{"data":{"name":"box"},"transform":[{"filter":"datum.p=='D2'"}],"mark":{"type":"rule","color":"black","strokeWidth":1.5},"encoding":{"x":{"field":"c","type":"quantitative","axis":null},"y":{"field":"lo","type":"quantitative","axis":null},"y2":{"field":"q1"}}},
{"data":{"name":"box"},"transform":[{"filter":"datum.p=='D2'"}],"mark":{"type":"rule","color":"black","strokeWidth":1.5},"encoding":{"x":{"field":"c","type":"quantitative","axis":null},"y":{"field":"q3","type":"quantitative","axis":null},"y2":{"field":"hi"}}},
{"data":{"name":"box"},"transform":[{"filter":"datum.p=='D2'"},{"fold":["lo","hi"],"as":["k","v"]}],"mark":{"type":"tick","orient":"horizontal","color":"black","thickness":1.5},"encoding":{"x":{"field":"c","type":"quantitative","axis":null},"y":{"field":"v","type":"quantitative","axis":null},"size":{"condition":{"test":"datum.c==1.8","value":23},"value":11}}},
{"data":{"name":"box"},"transform":[{"filter":"datum.p=='D2'"}],"mark":{"type":"rect","fill":"#3010EE","fillOpacity":0.9,"stroke":"black","strokeWidth":1.5},"encoding":{"x":{"field":"x0","type":"quantitative","axis":{"orient":"top","values":[0.3,1.8,3.3],"labelExpr":"datum.value<1?'1/6':datum.value<2.5?'2/3':'1/6'","title":"lowest\u00a0\u00a0intermediate\u00a0\u00a0highest"}},"x2":{"field":"x1"},"y":{"field":"q1","type":"quantitative","axis":null},"y2":{"field":"q3"}}},
{"data":{"name":"box"},"transform":[{"filter":"datum.p=='D2'"}],"mark":{"type":"rule","color":"black","strokeWidth":1.5},"encoding":{"x":{"field":"x0","type":"quantitative","axis":null},"x2":{"field":"x1"},"y":{"field":"med","type":"quantitative","axis":null}}},
{"data":{"name":"sig"},"transform":[{"filter":"datum.p=='D2'"}],"mark":{"type":"rule","color":"#333","strokeWidth":1},"encoding":{"x":{"field":"a","type":"quantitative","axis":null},"x2":{"field":"b"},"y":{"field":"y","type":"quantitative","axis":null}}},
{"data":{"name":"sig"},"transform":[{"filter":"datum.p=='D2'"}],"mark":{"type":"text","font":"Liberation Serif","fontSize":11,"baseline":"bottom","dy":-1,"color":"#222"},"encoding":{"x":{"field":"m","type":"quantitative","axis":null},"y":{"field":"y","type":"quantitative","axis":null},"text":{"field":"t"}}}
],
"resolve":{"axis":{"x":"independent","y":"independent"}}},
{"width":147,"height":143,
"layer":[
{"data":{"name":"cells"},"transform":[{"filter":"datum.g==12"}],"mark":{"type":"circle","size":30,"color":"#808080","opacity":0.72},"encoding":{"x":{"field":"x","type":"quantitative","scale":{"domain":[0,3.6],"nice":false,"zero":false},"axis":{"orient":"bottom","values":[0,0.9,1.8,2.7,3.6],"format":".1f","labelOverlap":false,"title":"Corr. net. node degree"}},"y":{"field":"wdeg","type":"quantitative","scale":{"domain":[0,2.7],"nice":false,"zero":false},"axis":{"values":[0,0.5,1,1.5,2,2.5],"format":".1f","labelOverlap":false,"title":["Average wave net.","node degree"]}}}},
{"data":{"name":"box"},"transform":[{"filter":"datum.p=='E2'"}],"mark":{"type":"rule","color":"black","strokeWidth":1.5},"encoding":{"x":{"field":"c","type":"quantitative","axis":null},"y":{"field":"lo","type":"quantitative","axis":null},"y2":{"field":"q1"}}},
{"data":{"name":"box"},"transform":[{"filter":"datum.p=='E2'"}],"mark":{"type":"rule","color":"black","strokeWidth":1.5},"encoding":{"x":{"field":"c","type":"quantitative","axis":null},"y":{"field":"q3","type":"quantitative","axis":null},"y2":{"field":"hi"}}},
{"data":{"name":"box"},"transform":[{"filter":"datum.p=='E2'"},{"fold":["lo","hi"],"as":["k","v"]}],"mark":{"type":"tick","orient":"horizontal","color":"black","thickness":1.5},"encoding":{"x":{"field":"c","type":"quantitative","axis":null},"y":{"field":"v","type":"quantitative","axis":null},"size":{"condition":{"test":"datum.c==1.8","value":23},"value":11}}},
{"data":{"name":"box"},"transform":[{"filter":"datum.p=='E2'"}],"mark":{"type":"rect","fill":"#3010EE","fillOpacity":0.9,"stroke":"black","strokeWidth":1.5},"encoding":{"x":{"field":"x0","type":"quantitative","axis":{"orient":"top","values":[0.3,1.8,3.3],"labelExpr":"datum.value<1?'1/6':datum.value<2.5?'2/3':'1/6'","title":"lowest\u00a0\u00a0intermediate\u00a0\u00a0highest"}},"x2":{"field":"x1"},"y":{"field":"q1","type":"quantitative","axis":null},"y2":{"field":"q3"}}},
{"data":{"name":"box"},"transform":[{"filter":"datum.p=='E2'"}],"mark":{"type":"rule","color":"black","strokeWidth":1.5},"encoding":{"x":{"field":"x0","type":"quantitative","axis":null},"x2":{"field":"x1"},"y":{"field":"med","type":"quantitative","axis":null}}},
{"data":{"name":"sig"},"transform":[{"filter":"datum.p=='E2'"}],"mark":{"type":"rule","color":"#333","strokeWidth":1},"encoding":{"x":{"field":"a","type":"quantitative","axis":null},"x2":{"field":"b"},"y":{"field":"y","type":"quantitative","axis":null}}},
{"data":{"name":"sig"},"transform":[{"filter":"datum.p=='E2'"}],"mark":{"type":"text","font":"Liberation Serif","fontSize":11,"baseline":"bottom","dy":-1,"color":"#222"},"encoding":{"x":{"field":"m","type":"quantitative","axis":null},"y":{"field":"y","type":"quantitative","axis":null},"text":{"field":"t"}}}
],
"resolve":{"axis":{"x":"independent","y":"independent"}}},
{"width":147,"height":143,
"layer":[
{"data":{"name":"cells"},"transform":[{"filter":"datum.g==12"}],"mark":{"type":"circle","size":30,"color":"#808080","opacity":0.72},"encoding":{"x":{"field":"x","type":"quantitative","scale":{"domain":[0,3.6],"nice":false,"zero":false},"axis":{"orient":"bottom","values":[0,0.9,1.8,2.7,3.6],"format":".1f","labelOverlap":false,"title":"Corr. net. node degree"}},"y":{"field":"wgt","type":"quantitative","scale":{"domain":[0.5,1.89],"nice":false,"zero":false},"axis":{"values":[0.5,0.8,1.1,1.4,1.7],"format":".1f","labelOverlap":false,"title":["Avg. node weight","in the wave network"]}}}},
{"data":{"name":"box"},"transform":[{"filter":"datum.p=='F2'"}],"mark":{"type":"rule","color":"black","strokeWidth":1.5},"encoding":{"x":{"field":"c","type":"quantitative","axis":null},"y":{"field":"lo","type":"quantitative","axis":null},"y2":{"field":"q1"}}},
{"data":{"name":"box"},"transform":[{"filter":"datum.p=='F2'"}],"mark":{"type":"rule","color":"black","strokeWidth":1.5},"encoding":{"x":{"field":"c","type":"quantitative","axis":null},"y":{"field":"q3","type":"quantitative","axis":null},"y2":{"field":"hi"}}},
{"data":{"name":"box"},"transform":[{"filter":"datum.p=='F2'"},{"fold":["lo","hi"],"as":["k","v"]}],"mark":{"type":"tick","orient":"horizontal","color":"black","thickness":1.5},"encoding":{"x":{"field":"c","type":"quantitative","axis":null},"y":{"field":"v","type":"quantitative","axis":null},"size":{"condition":{"test":"datum.c==1.8","value":23},"value":11}}},
{"data":{"name":"box"},"transform":[{"filter":"datum.p=='F2'"}],"mark":{"type":"rect","fill":"#3010EE","fillOpacity":0.9,"stroke":"black","strokeWidth":1.5},"encoding":{"x":{"field":"x0","type":"quantitative","axis":{"orient":"top","values":[0.3,1.8,3.3],"labelExpr":"datum.value<1?'1/6':datum.value<2.5?'2/3':'1/6'","title":"lowest\u00a0\u00a0intermediate\u00a0\u00a0highest"}},"x2":{"field":"x1"},"y":{"field":"q1","type":"quantitative","axis":null},"y2":{"field":"q3"}}},
{"data":{"name":"box"},"transform":[{"filter":"datum.p=='F2'"}],"mark":{"type":"rule","color":"black","strokeWidth":1.5},"encoding":{"x":{"field":"x0","type":"quantitative","axis":null},"x2":{"field":"x1"},"y":{"field":"med","type":"quantitative","axis":null}}},
{"data":{"name":"sig"},"transform":[{"filter":"datum.p=='F2'"}],"mark":{"type":"rule","color":"#333","strokeWidth":1},"encoding":{"x":{"field":"a","type":"quantitative","axis":null},"x2":{"field":"b"},"y":{"field":"y","type":"quantitative","axis":null}}},
{"data":{"name":"sig"},"transform":[{"filter":"datum.p=='F2'"}],"mark":{"type":"text","font":"Liberation Serif","fontSize":11,"baseline":"bottom","dy":-1,"color":"#222"},"encoding":{"x":{"field":"m","type":"quantitative","axis":null},"y":{"field":"y","type":"quantitative","axis":null},"text":{"field":"t"}}}
],
"resolve":{"axis":{"x":"independent","y":"independent"}}}
],"spacing":128,"bounds":"flush"}
],"spacing":30}
],"spacing":24},
{"width":700,"height":30,
"view":{"stroke":null},
"data":{"name":"leg"},
"layer":[
{"mark":{"type":"rect","stroke":"black","strokeWidth":1.5},"encoding":{"x":{"field":"a","type":"quantitative","scale":{"domain":[0,100],"nice":false,"zero":false},"axis":null},"x2":{"field":"b"},"y":{"datum":0.03,"type":"quantitative","scale":{"domain":[0,1],"nice":false,"zero":false},"axis":null},"y2":{"datum":0.97},"fill":{"field":"g","type":"nominal","scale":{"domain":["8 mM glucose","12 mM glucose"],"range":["#78F0EC","#3010EE"]},"legend":null}}},
{"mark":{"type":"text","align":"left","baseline":"middle","dx":12,"font":"Lato","fontSize":16,"fontWeight":"bold","color":"black"},"encoding":{"x":{"field":"b","type":"quantitative","axis":null},"y":{"datum":0.5,"type":"quantitative","axis":null},"text":{"field":"g"}}}
]}
],
"spacing":7
}
